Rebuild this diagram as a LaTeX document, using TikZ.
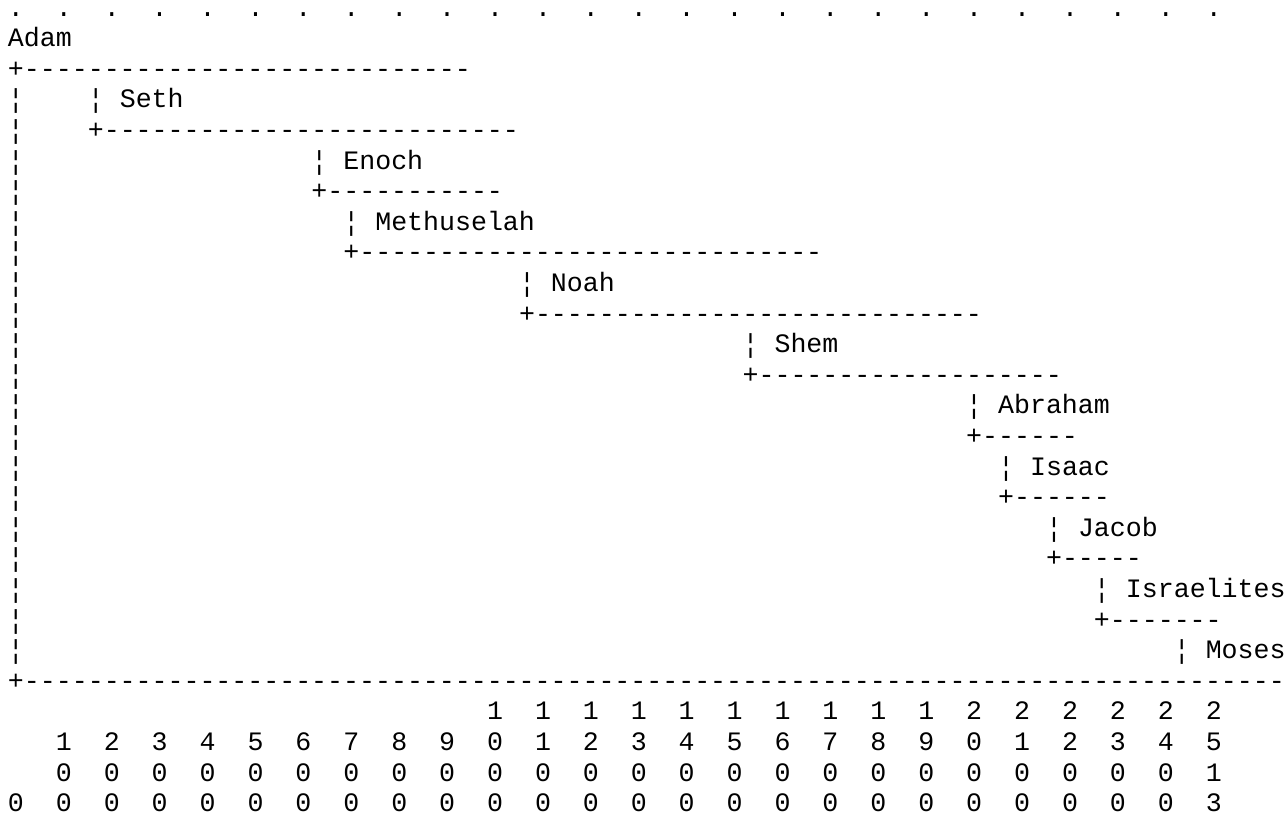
\documentclass[tikz,border=0pt]{standalone}
\usepackage{fontspec}
\newfontfamily\asciimono{Liberation Mono}
\newcount\dashcount
\newcommand\dashrun[1]{\dashcount=#1\relax\loop\ifnum\dashcount>0 -\kern0pt\advance\dashcount by -1\relax\repeat}
\tikzset{
  glyph/.style={anchor=base west, inner sep=0pt, outer sep=0pt,
    font=\asciimono\fontsize{26.6pt}{30.6pt}\selectfont, text=black},
}
\newcommand\cellat[4]{\node[glyph] (#1) at ({8pt+15.97pt*(#2)}, {-16.1pt-30.6pt*(#3)}) {#4};}
\begin{document}
\begin{tikzpicture}
\useasboundingbox[fill=white] (0,0) rectangle (1287pt,-814pt);
% scale dots
\foreach \c [count=\k] in {0,3,...,75} { \cellat{dot\k}{\c}{0}{.} }
% Adam
\cellat{adam}{0}{1}{Adam}
\cellat{adamline}{0}{2}{+\dashrun{28}}
\foreach \r in {3,...,21} { \cellat{adamv\r}{0}{\r}{¦} }
% Seth
\cellat{sethv}{5}{3}{¦}
\cellat{seth}{7}{3}{Seth}
\cellat{sethline}{5}{4}{+\dashrun{26}}
% Enoch
\cellat{enochv}{19}{5}{¦}
\cellat{enoch}{21}{5}{Enoch}
\cellat{enochline}{19}{6}{+\dashrun{11}}
% Methuselah
\cellat{methv}{21}{7}{¦}
\cellat{meth}{23}{7}{Methuselah}
\cellat{methline}{21}{8}{+\dashrun{29}}
% Noah
\cellat{noahv}{32}{9}{¦}
\cellat{noah}{34}{9}{Noah}
\cellat{noahline}{32}{10}{+\dashrun{28}}
% Shem
\cellat{shemv}{46}{11}{¦}
\cellat{shem}{48}{11}{Shem}
\cellat{shemline}{46}{12}{+\dashrun{19}}
% Abraham
\cellat{abrv}{60}{13}{¦}
\cellat{abr}{62}{13}{Abraham}
\cellat{abrline}{60}{14}{+\dashrun{6}}
% Isaac
\cellat{isaacv}{62}{15}{¦}
\cellat{isaac}{64}{15}{Isaac}
\cellat{isaacline}{62}{16}{+\dashrun{6}}
% Jacob
\cellat{jacobv}{65}{17}{¦}
\cellat{jacob}{67}{17}{Jacob}
\cellat{jacobline}{65}{18}{+\dashrun{5}}
% Israelites
\cellat{isrv}{68}{19}{¦}
\cellat{isr}{70}{19}{Israelites}
\cellat{isrline}{68}{20}{+\dashrun{7}}
% Moses
\cellat{mosesv}{73}{21}{¦}
\cellat{moses}{75}{21}{Moses}
% axis
\cellat{axis}{0}{22}{+\dashrun{79}}
\cellat{lab0}{0}{26}{0}
\foreach \k in {1,...,24}{
  \pgfmathtruncatemacro\tens{\k/10}
  \pgfmathtruncatemacro\ones{mod(\k,10)}
  \pgfmathtruncatemacro\col{3*\k}
  \ifnum\k>9 \cellat{lab\k a}{\col}{23}{\tens}\fi
  \cellat{lab\k b}{\col}{24}{\ones}
  \cellat{lab\k c}{\col}{25}{0}
  \cellat{lab\k d}{\col}{26}{0}
}
\cellat{labenda}{75}{23}{2}
\cellat{labendb}{75}{24}{5}
\cellat{labendc}{75}{25}{1}
\cellat{labendd}{75}{26}{3}
\end{tikzpicture}
\end{document}
